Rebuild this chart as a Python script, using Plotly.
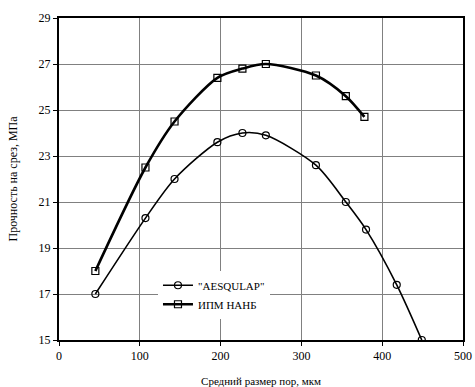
import plotly.graph_objects as go

aes_x = [45, 107, 143, 196, 227, 256, 318, 355, 380, 418, 449]
aes_y = [17.0, 20.3, 22.0, 23.6, 24.0, 23.9, 22.6, 21.0, 19.8, 17.4, 15.0]
ipm_x = [45, 107, 143, 196, 227, 256, 318, 355, 378]
ipm_y = [18.0, 22.5, 24.5, 26.4, 26.8, 27.0, 26.5, 25.6, 24.7]

x_ticks = [0, 100, 200, 300, 400, 500]
y_ticks = [15, 17, 19, 21, 23, 25, 27, 29]

font = "Times New Roman, Liberation Serif, serif"
fig = go.Figure()
fig.add_trace(go.Scatter(
    x=aes_x, y=aes_y, name='"AESQULAP"', mode="lines+markers",
    line=dict(color="black", width=1.6, shape="spline", smoothing=0.8),
    marker=dict(symbol="circle-open", size=7, color="black", line=dict(width=1.2)),
))
fig.add_trace(go.Scatter(
    x=ipm_x, y=ipm_y, name="ИПМ НАНБ", mode="lines+markers",
    line=dict(color="black", width=2.6, shape="spline", smoothing=0.8),
    marker=dict(symbol="square-open", size=7, color="black", line=dict(width=1.2)),
))
fig.update_layout(
    width=475, height=387,
    margin=dict(l=59, r=12, t=18, b=47),
    paper_bgcolor="white", plot_bgcolor="white",
    font=dict(family=font, size=12, color="black"),
    showlegend=True,
    legend=dict(x=0.245, y=0.215, xanchor="left", yanchor="top",
                bgcolor="white", font=dict(family=font, size=11),
                tracegroupgap=0, itemwidth=30),
)
fig.update_xaxes(range=[0, 500], tickvals=x_ticks, showgrid=True, gridcolor="#808080", gridwidth=1,
                 showline=True, linecolor="black", linewidth=2, mirror=True, automargin=False,
                 ticks="outside", ticklen=4, tickcolor="black", zeroline=False,
                 title=dict(text="Средний размер пор, мкм", font=dict(family=font, size=11), standoff=18))
fig.update_yaxes(range=[15, 29], tickvals=y_ticks, showgrid=True, gridcolor="#808080", gridwidth=1,
                 showline=True, linecolor="black", linewidth=2, mirror=True, automargin=False,
                 ticks="outside", ticklen=4, tickcolor="black", zeroline=False,
                 title=dict(text="Прочность на срез, МПа", font=dict(family=font, size=12), standoff=18))
fig.write_html("out.html", config={"displayModeBar": False},
               post_script="document.body.style.margin='0';document.body.style.overflow='hidden';")
